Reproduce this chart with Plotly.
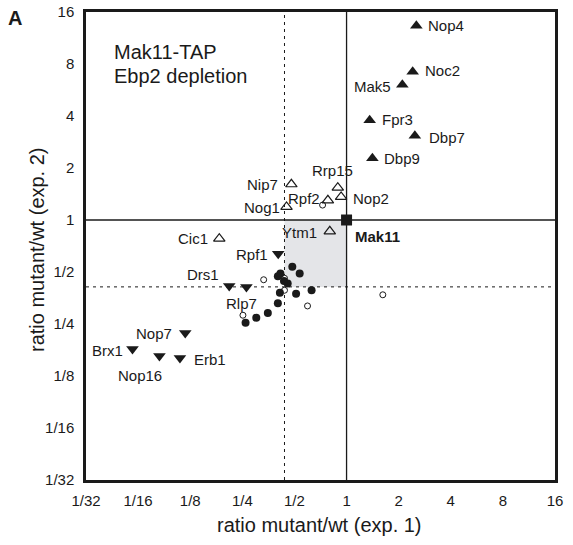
import math
import plotly.graph_objects as go

# ---------------- data ----------------
tick_vals = [1/32, 1/16, 1/8, 1/4, 1/2, 1, 2, 4, 8, 16]
tick_text = ["1/32", "1/16", "1/8", "1/4", "1/2", "1", "2", "4", "8", "16"]

up_filled_names = ["Nop4", "Noc2", "Mak5", "Fpr3", "Dbp7", "Dbp9"]
up_filled_x = [2.53, 2.41, 2.10, 1.36, 2.48, 1.41]
up_filled_y = [13.3, 7.21, 6.06, 3.78, 3.07, 2.28]

up_open_names = ["Nip7", "Nog1", "Rrp15", "Rpf2", "Nop2", "Ytm1", "Cic1"]
up_open_x = [0.48, 0.45, 0.89, 0.78, 0.93, 0.80, 0.184]
up_open_y = [1.61, 1.19, 1.54, 1.30, 1.36, 0.86, 0.78]

down_names = ["Rpf1", "Drs1", "Rlp7", "Nop7", "Brx1", "Nop16", "Erb1"]
down_x = [0.403, 0.210, 0.264, 0.117, 0.058, 0.083, 0.109]
down_y = [0.637, 0.415, 0.409, 0.222, 0.179, 0.163, 0.159]

bait_names = ["Mak11"]
bait_x = [1.0]
bait_y = [1.0]

dot_filled_x = [0.486, 0.536, 0.415, 0.401, 0.457, 0.435, 0.412, 0.511, 0.628, 0.401, 0.351, 0.301, 0.261]
dot_filled_y = [0.536, 0.490, 0.490, 0.473, 0.429, 0.444, 0.379, 0.374, 0.392, 0.330, 0.289, 0.272, 0.254]

dot_open_x = [0.727, 0.332, 0.438, 0.438, 0.595, 0.252, 1.62]
dot_open_y = [1.22, 0.451, 0.460, 0.392, 0.318, 0.281, 0.369]

threshold_x = 0.438
threshold_y = 0.41

# ---------------- label styling (anchor, x-shift px, y-shift px) ----------------
label_style = {
    "Nop4": ("left", 10, 0), "Noc2": ("left", 10, 1), "Mak5": ("right", -9, -2),
    "Fpr3": ("left", 10, 1), "Dbp7": ("left", 12, -2), "Dbp9": ("left", 10, 0),
    "Nip7": ("right", -11, 0), "Nog1": ("right", -5, -1), "Rrp15": ("center", -5, 17),
    "Rpf2": ("right", -6, 2), "Nop2": ("left", 10, -2), "Ytm1": ("right", -11, -1),
    "Cic1": ("right", -9, 0), "Rpf1": ("right", -8, -1), "Drs1": ("right", -8, 11),
    "Rlp7": ("center", -5, -16), "Nop7": ("right", -11, -1), "Brx1": ("right", -7, -1),
    "Nop16": ("center", -19, -19), "Erb1": ("left", 12, -2), "Mak11": ("left", 6, -16),
}

FONT = "Liberation Sans, Arial, Helvetica, sans-serif"
TXT = "#1a1a1a"

fig = go.Figure()

# grey quadrant box and reference lines
fig.add_shape(type="rect", x0=threshold_x, x1=1, y0=threshold_y, y1=1,
              fillcolor="#e4e5e8", line_width=0, layer="below")
fig.add_shape(type="line", x0=1, x1=1, y0=1/32, y1=16, line=dict(color="#1a1a1a", width=1.3), layer="below")
fig.add_shape(type="line", x0=1/32, x1=16, y0=1, y1=1, line=dict(color="#1a1a1a", width=1.3), layer="below")
fig.add_shape(type="line", x0=threshold_x, x1=threshold_x, y0=1/32, y1=16,
              line=dict(color="#1a1a1a", width=1, dash="3px,4px"), layer="below")
fig.add_shape(type="line", x0=1/32, x1=16, y0=threshold_y, y1=threshold_y,
              line=dict(color="#1a1a1a", width=1, dash="3px,4px"), layer="below")

fig.add_trace(go.Scatter(x=dot_open_x, y=dot_open_y, mode="markers",
                         marker=dict(symbol="circle", size=6, color="white",
                                     line=dict(color="#1a1a1a", width=1))))
fig.add_trace(go.Scatter(x=dot_filled_x, y=dot_filled_y, mode="markers",
                         marker=dict(symbol="circle", size=8, color="#1a1a1a", line_width=0)))
fig.add_trace(go.Scatter(x=up_open_x, y=up_open_y, mode="markers",
                         marker=dict(symbol="triangle-up", size=10, color="rgba(255,255,255,0)",
                                     line=dict(color="#1a1a1a", width=1.2))))
fig.add_trace(go.Scatter(x=up_filled_x, y=up_filled_y, mode="markers",
                         marker=dict(symbol="triangle-up", size=11, color="#1a1a1a", line_width=0)))
fig.add_trace(go.Scatter(x=down_x, y=down_y, mode="markers",
                         marker=dict(symbol="triangle-down", size=11, color="#1a1a1a", line_width=0)))
fig.add_trace(go.Scatter(x=bait_x, y=bait_y, mode="markers",
                         marker=dict(symbol="square", size=11, color="#1a1a1a", line_width=0)))

annotations = []
for names, xs, ys in [(up_filled_names, up_filled_x, up_filled_y),
                      (up_open_names, up_open_x, up_open_y),
                      (down_names, down_x, down_y),
                      (bait_names, bait_x, bait_y)]:
    for n, xv, yv in zip(names, xs, ys):
        anc, dx, dy = label_style[n]
        txt = "<b>%s</b>" % n if n in bait_names else n
        annotations.append(dict(x=math.log10(xv), y=math.log10(yv), xref="x", yref="y",
                                text=txt, showarrow=False, xanchor=anc, yanchor="middle",
                                xshift=dx, yshift=dy,
                                font=dict(family=FONT, size=15, color=TXT)))

annotations += [
    dict(x=0, y=1, xref="paper", yref="paper", text="<b>A</b>", showarrow=False,
         xanchor="center", yanchor="middle", xshift=-71, yshift=-6,
         font=dict(family=FONT, size=20, color=TXT)),
    dict(x=0, y=1, xref="paper", yref="paper", text="Mak11-TAP", showarrow=False,
         xanchor="left", yanchor="middle", xshift=26, yshift=-40,
         font=dict(family=FONT, size=20, color=TXT)),
    dict(x=0, y=1, xref="paper", yref="paper", text="Ebp2 depletion", showarrow=False,
         xanchor="left", yanchor="middle", xshift=26, yshift=-64,
         font=dict(family=FONT, size=20, color=TXT)),
    dict(x=0.5, y=0, xref="paper", yref="paper", text="ratio mutant/wt (exp. 1)", showarrow=False,
         xanchor="center", yanchor="middle", yshift=-45, xshift=-1,
         font=dict(family=FONT, size=20, color=TXT)),
    dict(x=0, y=0.5, xref="paper", yref="paper", text="ratio mutant/wt (exp. 2)", showarrow=False,
         xanchor="center", yanchor="middle", xshift=-49, yshift=-4, textangle=-90,
         font=dict(family=FONT, size=20, color=TXT)),
]

axis_common = dict(type="log", tickvals=tick_vals, ticktext=tick_text, showgrid=False,
                   zeroline=False, showline=True, linecolor="#1a1a1a", linewidth=2.5,
                   mirror=True, ticks="", tickfont=dict(family=FONT, size=15, color=TXT),
                   range=[math.log10(1/32), math.log10(16)], automargin=False,
                   ticklabeloverflow="allow")

fig.update_layout(
    width=573, height=545,
    margin=dict(l=86, r=18, t=12, b=65, autoexpand=False),
    paper_bgcolor="white", plot_bgcolor="white",
    showlegend=False,
    xaxis=dict(**axis_common, ticklabelstandoff=5),
    yaxis=dict(**axis_common, ticklabelstandoff=6),
    annotations=annotations,
)

# remove the browser's default 8px page margin so the figure fills the window exactly
fig.write_html("out.html", config={"displayModeBar": False},
               post_script="document.body.style.margin='0px';")
